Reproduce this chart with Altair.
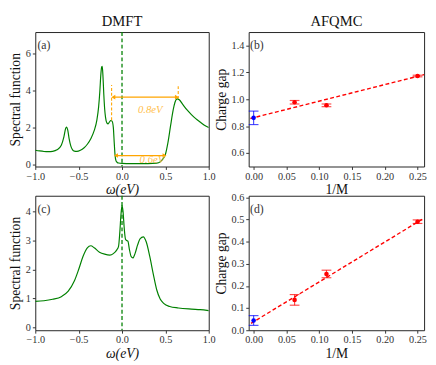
import altair as alt
import pandas as pd

# ---------------- data ----------------
a_omega = [-1.00, -0.95, -0.90, -0.85, -0.80, -0.75, -0.70, -0.67, -0.65, -0.64, -0.625, -0.61, -0.59,
           -0.57, -0.55, -0.52, -0.48, -0.44, -0.40, -0.36, -0.32, -0.29, -0.27, -0.255, -0.245, -0.235,
           -0.228, -0.22, -0.21, -0.20, -0.19, -0.175, -0.16, -0.145, -0.13, -0.115, -0.10, -0.09, -0.08,
           -0.07, -0.055, -0.04, 0.0, 0.1, 0.2, 0.3, 0.40, 0.44, 0.47, 0.50, 0.53, 0.56, 0.59, 0.61, 0.635,
           0.66, 0.70, 0.75, 0.80, 0.85, 0.90, 0.95, 1.00]
a_spec = [0.78, 0.74, 0.71, 0.70, 0.72, 0.80, 1.05, 1.50, 1.95, 2.03, 1.85, 1.40, 1.00,
          0.80, 0.73, 0.72, 0.78, 0.90, 1.10, 1.40, 1.85, 2.40, 3.10, 4.00, 4.80, 5.25,
          5.30, 4.80, 3.80, 3.00, 2.55, 2.25, 2.20, 2.30, 2.38, 2.35, 2.00, 1.20, 0.50,
          0.22, 0.12, 0.09, 0.07, 0.06, 0.06, 0.06, 0.08, 0.15, 0.30, 0.55, 1.20, 2.10, 2.95, 3.35, 3.55,
          3.50, 3.25, 2.95, 2.70, 2.48, 2.30, 2.13, 2.00]

c_omega = [-1.00, -0.90, -0.80, -0.70, -0.62, -0.55, -0.50, -0.45, -0.40, -0.36, -0.32, -0.26, -0.20,
           -0.14, -0.10, -0.06, -0.04, -0.025, -0.012, 0.0, 0.012, 0.025, 0.04, 0.055, 0.068, 0.085,
           0.105, 0.125, 0.15, 0.18, 0.21, 0.245, 0.28, 0.32, 0.36, 0.40, 0.44, 0.48, 0.55, 0.65, 0.80,
           0.90, 1.00]
c_spec = [0.90, 0.92, 0.97, 1.06, 1.25, 1.60, 2.00, 2.45, 2.75, 2.82, 2.75, 2.60, 2.53,
          2.50, 2.55, 2.68, 2.80, 3.30, 3.90, 4.22, 4.00, 3.45, 3.05, 3.00, 2.98, 2.70,
          2.45, 2.40, 2.55, 2.85, 3.07, 3.13, 2.95, 2.45, 1.85, 1.30, 0.98, 0.83, 0.72, 0.67, 0.63,
          0.61, 0.58]

# gap annotations in (a)
gap_labels = ["0.8eV", "0.6eV"]
gap_x1 = [-0.10, -0.07]
gap_x2 = [0.633, 0.49]
gap_y = [3.64, 0.49]
gap_label_x = [0.326, 0.345]
gap_label_y = [2.93, 0.27]
guide_x = [-0.12, 0.648]
guide_y1 = [2.40, 3.55]
guide_y2 = [4.30, 4.30]

# AFQMC (b)
b_invM = [0.0, 0.0625, 0.1111, 0.25]
b_gap = [0.862, 0.978, 0.955, 1.173]
b_err = [0.050, 0.013, 0.010, 0.006]
b_fit_x = [-0.005, 0.26]
b_fit_y = [0.857, 1.183]

# AFQMC (d)
d_invM = [0.0, 0.0625, 0.1111, 0.25]
d_gap = [0.044, 0.137, 0.254, 0.490]
d_err = [0.022, 0.024, 0.017, 0.008]
d_fit_x = [-0.004, 0.26]
d_fit_y = [0.031, 0.506]

extrap = ["extrapolated", "finite", "finite", "finite"]

# ---------------- style ----------------
FONT = "Liberation Serif"
GREEN = "#008000"
ORANGE = "#FFA500"
W_L, W_R, H = 178, 180, 138


def axis_x(title, values, fmt, italic=False):
    return alt.Axis(title=title, values=values, format=fmt, grid=False, tickSize=3,
                    labelFont=FONT, titleFont=FONT, labelFontSize=10.5, titleFontSize=14,
                    titleFontWeight="normal", titleFontStyle="italic" if italic else "normal",
                    titlePadding=1, labelPadding=2, labelFlush=False, labelOverlap=False,
                    labelColor="#333", titleColor="#111")


def axis_y(title, values, fmt):
    return alt.Axis(title=title, values=values, format=fmt, grid=False, tickSize=3,
                    labelFont=FONT, titleFont=FONT, labelFontSize=10.5, titleFontSize=14,
                    titleFontWeight="normal", titlePadding=3, labelPadding=2, labelOverlap=False,
                    labelFlush=False, labelColor="#333", titleColor="#111")


def dmft_panel(omega, spec, ydom, yvals, label, title, xtitle, annotate=False):
    df = pd.DataFrame({"w": omega, "A": spec})
    xs = alt.Scale(domain=[-1, 1], nice=False)
    ys = alt.Scale(domain=ydom, nice=False, zero=False)
    xa = axis_x(xtitle, [-1, -0.5, 0, 0.5, 1], ".1f", italic=True)
    ya = axis_y("Spectral function", yvals, "d")

    def X(f):
        return alt.X(f, scale=xs, axis=xa)

    def Y(f):
        return alt.Y(f, scale=ys, axis=ya)

    line = alt.Chart(df).mark_line(color=GREEN, strokeWidth=1.2, interpolate="monotone",
                                   clip=True).encode(x=X("w:Q"), y=Y("A:Q"))
    vline = alt.Chart(pd.DataFrame({"w": [0.0]})).mark_rule(
        color=GREEN, strokeDash=[4, 2.5], strokeWidth=1.3).encode(x=X("w:Q"))
    lab = alt.Chart(pd.DataFrame({"w": [-0.975], "A": [ydom[1] - (ydom[1] - ydom[0]) * 0.1],
                                  "t": [label]})).mark_text(
        font=FONT, fontSize=12, align="left", color="#333").encode(
        x=X("w:Q"), y=Y("A:Q"), text="t:N")
    layers = [line, vline]
    if annotate:
        gdf = pd.DataFrame({"x1": gap_x1, "x2": gap_x2, "y": gap_y, "lx": gap_label_x,
                            "ly": gap_label_y, "t": gap_labels})
        rules = alt.Chart(gdf).mark_rule(color=ORANGE, strokeWidth=1.3).encode(
            x=X("x1:Q"), x2="x2:Q", y=Y("y:Q"))
        left_head = alt.Chart(gdf).mark_point(shape="triangle-left", filled=True, color=ORANGE,
                                              size=22, opacity=1).encode(x=X("x1:Q"), y=Y("y:Q"))
        right_head = alt.Chart(gdf).mark_point(shape="triangle-right", filled=True, color=ORANGE,
                                               size=22, opacity=1).encode(x=X("x2:Q"), y=Y("y:Q"))
        texts = alt.Chart(gdf).mark_text(font=FONT, fontSize=11, fontStyle="italic",
                                         color="#FFC04D").encode(
            x=X("lx:Q"), y=Y("ly:Q"), text="t:N")
        vdf = pd.DataFrame({"x": guide_x, "y1": guide_y1, "y2": guide_y2})
        guides = alt.Chart(vdf).mark_rule(color=ORANGE, strokeDash=[3, 2], strokeWidth=1.1).encode(
            x=X("x:Q"), y=Y("y1:Q"), y2="y2:Q")
        layers += [guides, rules, left_head, right_head, texts]
    layers.append(lab)
    ch = alt.layer(*layers).properties(width=W_L, height=H)
    if title:
        ch = ch.properties(title=alt.Title(title, font=FONT, fontSize=15, fontWeight="normal",
                                           offset=3, color="#111"))
    return ch


def afqmc_panel(invM, gap, err, fx, fy, ydom, yvals, label, title):
    df = pd.DataFrame({"m": invM, "g": gap, "lo": [g - e for g, e in zip(gap, err)],
                       "hi": [g + e for g, e in zip(gap, err)], "kind": extrap})
    xs = alt.Scale(domain=[-0.0075, 0.26], nice=False, zero=False)
    ys = alt.Scale(domain=ydom, nice=False, zero=False)
    xa = axis_x("1/M", [0, 0.05, 0.1, 0.15, 0.2, 0.25], ".2f")
    ya = axis_y("Charge gap", yvals, ".1f")

    def X(f):
        return alt.X(f, scale=xs, axis=xa)

    def Y(f):
        return alt.Y(f, scale=ys, axis=ya)

    color = alt.Color("kind:N", scale=alt.Scale(domain=["extrapolated", "finite"],
                                                range=["#0000FF", "#FF0000"]), legend=None)
    fit = alt.Chart(pd.DataFrame({"m": fx, "g": fy})).mark_line(
        color="#FF0000", strokeDash=[4, 2.5], strokeWidth=1.4).encode(x=X("m:Q"), y=Y("g:Q"))
    bars = alt.Chart(df).mark_rule(strokeWidth=1.2, opacity=0.7).encode(
        x=X("m:Q"), y=Y("lo:Q"), y2="hi:Q", color=color)
    caps_lo = alt.Chart(df).mark_tick(thickness=1.2, size=10, orient="horizontal",
                                      opacity=0.7).encode(x=X("m:Q"), y=Y("lo:Q"), color=color)
    caps_hi = alt.Chart(df).mark_tick(thickness=1.2, size=10, orient="horizontal",
                                      opacity=0.7).encode(x=X("m:Q"), y=Y("hi:Q"), color=color)
    pts = alt.Chart(df).mark_circle(size=22, opacity=1).encode(
        x=X("m:Q"), y=Y("g:Q"), color=color)
    lab = alt.Chart(pd.DataFrame({"m": [-0.0055], "g": [ydom[1] - (ydom[1] - ydom[0]) * 0.1],
                                  "t": [label]})).mark_text(
        font=FONT, fontSize=12, align="left", color="#333").encode(
        x=X("m:Q"), y=Y("g:Q"), text="t:N")
    ch = alt.layer(fit, bars, caps_lo, caps_hi, pts, lab).properties(width=W_R, height=H)
    if title:
        ch = ch.properties(title=alt.Title(title, font=FONT, fontSize=15, fontWeight="normal",
                                           offset=3, color="#111"))
    return ch


pa = dmft_panel(a_omega, a_spec, [-0.1, 7.15], [0, 2, 4, 6], "(a)", "DMFT", "ω(eV)", annotate=True)
pb = afqmc_panel(b_invM, b_gap, b_err, b_fit_x, b_fit_y, [0.5, 1.5], [0.6, 0.8, 1.0, 1.2, 1.4],
                 "(b)", "AFQMC")
pc = dmft_panel(c_omega, c_spec, [-0.1, 4.55], [0, 1, 2, 3, 4], "(c)", None, "ω(eV)")
pd_ = afqmc_panel(d_invM, d_gap, d_err, d_fit_x, d_fit_y, [0.0, 0.607],
                  [0.0, 0.1, 0.2, 0.3, 0.4, 0.5, 0.6], "(d)", None)

chart = alt.concat(pa, pb, pc, pd_, columns=2, spacing={"row": 30, "column": 41},
                   bounds="flush").configure(
    font=FONT, padding=0, background="white"
).configure_view(stroke="#222", strokeWidth=1).configure_axis(
    labelFont=FONT, titleFont=FONT, labelColor="#333", titleColor="#111",
    titleFontWeight="normal", tickColor="#333", domain=False
)

chart.save("out.html", embed_options={"renderer": "svg", "actions": False})
